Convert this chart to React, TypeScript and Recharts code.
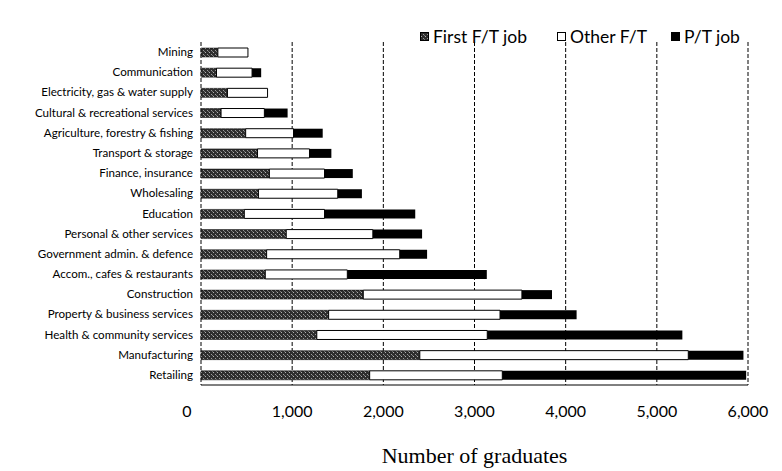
import { Bar, BarChart, CartesianGrid, Legend, XAxis, YAxis } from "recharts"

const industries = [
  "Mining",
  "Communication",
  "Electricity, gas & water supply",
  "Cultural & recreational services",
  "Agriculture, forestry & fishing",
  "Transport & storage",
  "Finance, insurance",
  "Wholesaling",
  "Education",
  "Personal & other services",
  "Government admin. & defence",
  "Accom., cafes & restaurants",
  "Construction",
  "Property & business services",
  "Health & community services",
  "Manufacturing",
  "Retailing",
]

const firstFullTime = [185, 170, 290, 220, 490, 620, 750, 630, 475, 935, 720, 705, 1780, 1400, 1270, 2400, 1850]
const otherFullTime = [330, 390, 440, 475, 525, 570, 605, 870, 880, 950, 1460, 900, 1740, 1880, 1870, 2945, 1455]
const partTime = [0, 100, 0, 255, 320, 240, 310, 265, 995, 540, 300, 1530, 330, 840, 2140, 605, 2675]

const xTicks = [0, 1000, 2000, 3000, 4000, 5000, 6000]

const chartData = industries.map((name, i) => ({
  name,
  first: firstFullTime[i],
  other: otherFullTime[i],
  partTime: partTime[i],
}))

const sans = "Lato, 'Noto Sans', sans-serif"

function XTick({ x, y, payload }: any) {
  // the zero label sits a little left of the axis origin
  const shift = payload.value === 0 ? -14 : 0
  return (
    <text x={x + shift} y={y} dy={24} textAnchor="middle" fontSize={16} fontFamily={sans} fill="#000">
      {payload.value.toLocaleString("en-US")}
    </text>
  )
}

// plain one-line category labels, right aligned against the plot
function YTick({ x, y, payload }: any) {
  return (
    <text x={x} y={y} dy={4} textAnchor="end" fontSize={11.6} fontFamily={sans} fill="#000">
      {payload.value}
    </text>
  )
}

function LegendBox() {
  const items = [
    { label: "First F/T job", fill: "url(#speckle)", gap: 30 },
    { label: "Other F/T", fill: "#fff", gap: 24 },
    { label: "P/T job", fill: "#000", gap: 0 },
  ]
  return (
    <div style={{ display: "flex", alignItems: "center", fontFamily: sans, fontSize: 17.5, color: "#000" }}>
      {items.map((it) => (
        <div key={it.label} style={{ display: "flex", alignItems: "center", marginRight: it.gap }}>
          <svg width={9} height={9} style={{ marginRight: 4 }}>
            <rect x={0.5} y={0.5} width={8} height={8} fill={it.fill} stroke="#000" strokeWidth={1} />
          </svg>
          <span>{it.label}</span>
        </div>
      ))}
    </div>
  )
}

export default function App() {
  return (
    <div style={{ position: "absolute", left: 0, top: 0, background: "#fff" }}>
      <BarChart
        width={782}
        height={471}
        data={chartData}
        layout="vertical"
        margin={{ top: 21, right: 34, left: 0, bottom: 0 }}
        barSize={9}
      >
        <defs>
          <pattern id="speckle" width={4} height={4} patternUnits="userSpaceOnUse">
            <rect width={4} height={4} fill="#2e2e2e" />
            <rect x={1} y={0} width={1} height={1} fill="#b0b0b0" />
            <rect x={3} y={2} width={1} height={1} fill="#9a9a9a" />
            <rect x={0} y={3} width={1} height={1} fill="#777" />
          </pattern>
        </defs>
        <CartesianGrid horizontal={false} stroke="#000" strokeDasharray="4 2" />
        <XAxis
          type="number"
          domain={[0, 6000]}
          ticks={xTicks}
          height={86}
          tickLine={false}
          axisLine={{ stroke: "#000" }}
          tick={<XTick />}
          label={{
            value: "Number of graduates",
            position: "insideBottom",
            offset: 8,
            fontSize: 22,
            fontFamily: "'Liberation Serif', serif",
            fill: "#000",
          }}
        />
        <YAxis
          type="category"
          dataKey="name"
          width={201}
          tickLine={false}
          axisLine={false}
          interval={0}
          tick={<YTick />}
        />
        <Legend
          verticalAlign="top"
          align="left"
          content={<LegendBox />}
          wrapperStyle={{ top: 26, left: 420, width: 360 }}
        />
        <Bar dataKey="first" stackId="a" fill="url(#speckle)" stroke="#000" strokeWidth={0.5} isAnimationActive={false} />
        <Bar dataKey="other" stackId="a" fill="#fff" stroke="#000" strokeWidth={1} isAnimationActive={false} />
        <Bar dataKey="partTime" stackId="a" fill="#000" isAnimationActive={false} />
      </BarChart>
    </div>
  )
}
